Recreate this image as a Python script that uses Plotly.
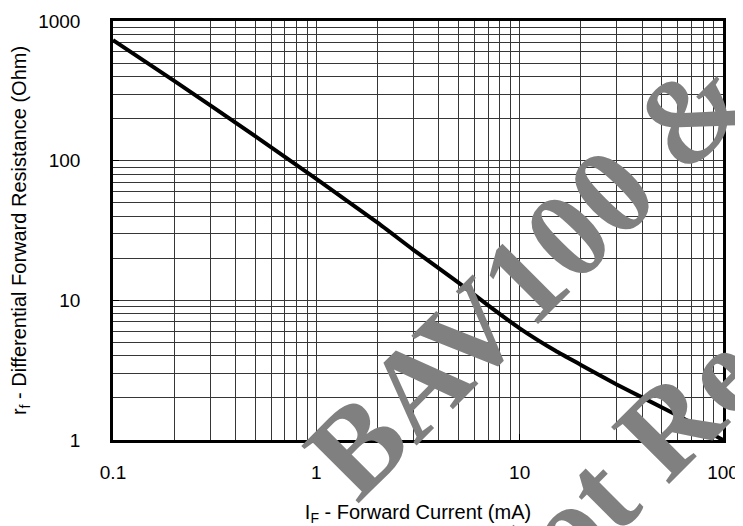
import plotly.graph_objects as go

# forward current (mA) and differential forward resistance (Ohm)
current_ma = [0.1, 0.2, 0.5, 1, 2, 3, 5, 7, 10, 15, 20, 30, 40, 70, 100]
resistance_ohm = [730, 373, 150, 74, 36, 23, 13.4, 9.2, 6.3, 4.35, 3.45, 2.5, 2.02, 1.33, 1.0]

x_ticks = [0.1, 1, 10, 100]
x_tick_labels = ['0.1', '1', '10', '100']
y_ticks = [1, 10, 100, 1000]
y_tick_labels = ['1', '10', '100', '1000']

watermark_lines = ['BAV100 &', 'Not Rec']

font = 'Liberation Sans, Arial, sans-serif'
grid_color = '#363636'

fig = go.Figure()
fig.add_trace(
    go.Scatter(
        x=current_ma,
        y=resistance_ohm,
        mode='lines',
        line=dict(color='black', width=4, shape='spline', smoothing=0.5),
        showlegend=False,
    )
)

axis_common = dict(
    type='log',
    automargin=False,
    showline=True,
    linecolor='black',
    linewidth=2.5,
    mirror=True,
    showgrid=True,
    gridcolor=grid_color,
    gridwidth=1,
    ticks='inside',
    ticklen=6,
    tickcolor='black',
    tickfont=dict(family=font, size=19, color='black'),
    minor=dict(dtick='D1', showgrid=True, gridcolor=grid_color, gridwidth=1),
    zeroline=False,
)

fig.update_xaxes(
    **axis_common,
    range=[-1, 2],
    tickvals=x_ticks,
    ticktext=x_tick_labels,
    ticklabelstandoff=13,
    title=dict(
        text='I<sub>F</sub> - Forward Current (mA)',
        font=dict(family=font, size=20, color='black'),
        standoff=24,
    ),
)
fig.update_yaxes(
    **axis_common,
    range=[0, 3],
    tickvals=y_ticks,
    ticktext=y_tick_labels,
    ticklabelstandoff=26,
    title=dict(
        text='r<sub>f</sub> - Differential Forward Resistance (Ohm)',
        font=dict(family=font, size=20, color='black'),
        standoff=12,
    ),
)

# diagonal watermark
for text, (px, py) in zip(watermark_lines, [(0.68, 0.393), (0.846, -0.062)]):
    fig.add_annotation(
        text=text,
        x=px,
        y=py,
        xref='paper',
        yref='paper',
        xanchor='center',
        yanchor='middle',
        textangle=-45,
        showarrow=False,
        font=dict(family='Liberation Serif, Times New Roman, serif', size=124,
                  color='#808080', weight='bold'),
    )

# page body has an 8px margin, so the figure is 8px smaller than the window
fig.update_layout(
    width=735,
    height=518,
    margin=dict(l=105, r=20, t=13, b=86),
    plot_bgcolor='white',
    paper_bgcolor='white',
)

fig.write_html('out.html')
